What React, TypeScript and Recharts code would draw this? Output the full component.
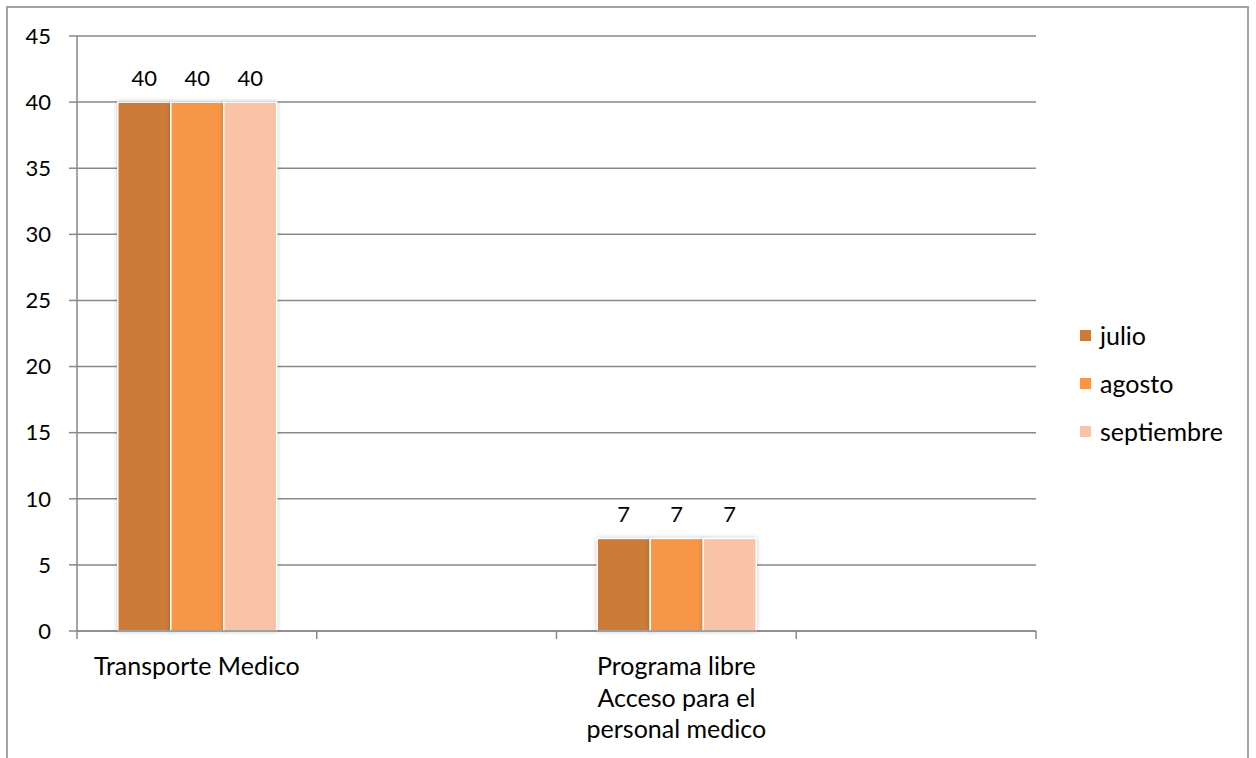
import React from "react";
import { BarChart, Bar, XAxis, YAxis, CartesianGrid, Legend, LabelList } from "recharts";

const categories = ["Transporte Medico", "", "Programa libre\nAcceso para el\npersonal medico", ""];
const julio = [40, null, 7, null];
const agosto = [40, null, 7, null];
const septiembre = [40, null, 7, null];
const yTicks = [0, 5, 10, 15, 20, 25, 30, 35, 40, 45];

const seriesNames = ["julio", "agosto", "septiembre"];
const colors = ["#CC7B38", "#F79646", "#F9C3A8"];

const data = categories.map((name, i) => ({
  name,
  julio: julio[i],
  agosto: agosto[i],
  septiembre: septiembre[i],
}));

const W = 1256;
const H = 758;
const M = { top: 36, right: 220, left: 0, bottom: 0 };
const YW = 77;
const XH = 127;
const PLOT_W = W - M.left - M.right - YW;
const FONT = "Lato, 'Noto Sans', sans-serif";
const FS = 22;
const TFS = 25;
const AX = "#898989";

const XTick = (props: any) => {
  const { x, y, payload, index } = props;
  const band = PLOT_W / categories.length;
  const lines: string[] = String(payload.value || "").split("\n").filter((s) => s.length);
  return (
    <g>
      <line x1={x - band / 2} x2={x - band / 2} y1={y - 8} y2={y} stroke={AX} strokeWidth={1.5} />
      {index === categories.length - 1 && (
        <line x1={x + band / 2} x2={x + band / 2} y1={y - 8} y2={y} stroke={AX} strokeWidth={1.5} />
      )}
      {lines.map((ln, k) => (
        <text key={k} x={x} y={y + 36 + k * 31.5} textAnchor="middle" fill="#000" fontSize={TFS} fontFamily={FONT}>
          {ln}
        </text>
      ))}
    </g>
  );
};

const LegendContent = (props: any) => {
  const payload = [...(props.payload || [])].sort(
    (a: any, b: any) => seriesNames.indexOf(a.value) - seriesNames.indexOf(b.value)
  );
  return (
    <div style={{ fontFamily: FONT, fontSize: TFS, color: "#000" }}>
      {payload.map((p: any, i: number) => (
        <div key={i} style={{ display: "flex", alignItems: "center", height: 48 }}>
          <span style={{ display: "inline-block", width: 11, height: 11, background: p.color, marginRight: 9 }} />
          <span>{p.value}</span>
        </div>
      ))}
    </div>
  );
};

const BarShape = (props: any) => {
  const { x, y, width, height, fill } = props;
  if (!height || height <= 0) return <g />;
  return (
    <rect
      x={x}
      y={y}
      width={width}
      height={height}
      fill={fill}
      stroke="#fff"
      strokeWidth={1.5}
      style={{ filter: "drop-shadow(0px 0px 2px rgba(0,0,0,0.22))" }}
    />
  );
};

export default function App() {
  return (
    <div style={{ position: "fixed", left: 0, top: 0, width: W, height: H, background: "#fff", overflow: "hidden" }}>
      <div
        style={{
          position: "absolute",
          left: 6,
          top: 6,
          width: 1243,
          height: 820,
          border: "2px solid #a3a3a3",
          boxSizing: "border-box",
        }}
      />
      <div style={{ position: "absolute", left: 0, top: 0 }}>
        <BarChart width={W} height={H} data={data} margin={M} barCategoryGap="17%" barGap={0}>
          <CartesianGrid vertical={false} stroke={AX} strokeWidth={1.5} />
          <XAxis
            dataKey="name"
            height={XH}
            interval={0}
            tickLine={false}
            tickSize={8}
            tickMargin={0}
            axisLine={{ stroke: AX, strokeWidth: 1.5 }}
            tick={<XTick />}
          />
          <YAxis
            width={YW}
            domain={[0, 45]}
            ticks={yTicks}
            interval={0}
            tickSize={8}
            tickMargin={18}
            axisLine={{ stroke: AX, strokeWidth: 1.5 }}
            tickLine={{ stroke: AX, strokeWidth: 1.5 }}
            tick={{ fill: "#000", fontSize: FS, fontFamily: FONT }}
          />
          <Legend
            layout="horizontal"
            verticalAlign="middle"
            align="center"
            content={<LegendContent />}
            wrapperStyle={{ position: "absolute", left: 1080, top: 311, width: 170, height: 150 }}
          />
          {seriesNames.map((s, i) => (
            <Bar
              key={s}
              dataKey={s}
              name={s}
              fill={colors[i]}
              stroke="#fff"
              strokeWidth={1.5}
              shape={<BarShape />}
              isAnimationActive={false}
            >
              <LabelList dataKey={s} position="top" offset={16} fill="#000" fontSize={FS} fontFamily={FONT} />
            </Bar>
          ))}
        </BarChart>
      </div>
    </div>
  );
}
